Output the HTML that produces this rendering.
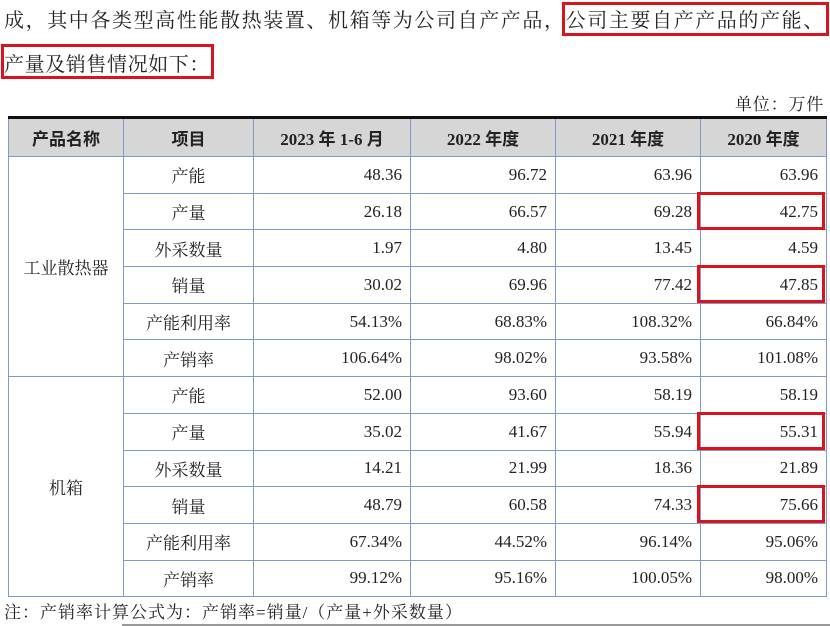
<!DOCTYPE html>
<html><head><meta charset="utf-8"><style>
body{margin:0;width:830px;height:626px;background:#fff;position:relative;overflow:hidden;font-family:"Liberation Serif","Noto Serif CJK SC",serif;color:#222}
.t{position:absolute;font-size:20px;white-space:nowrap}
.box{position:absolute;border:3px solid #d9141e;box-sizing:border-box}
table{position:absolute;left:8px;top:116px;border-collapse:collapse;table-layout:fixed;font-size:17px}
td,th{border:1.5px solid #7f9cc8;padding:0 8px;height:35.7px;text-align:right}
th{background:#d6d6d6;text-align:center;font-weight:bold;height:37px;border-top:3px solid #111;font-family:"Liberation Serif","Noto Sans CJK SC",serif}
td.c{text-align:center}
</style></head><body>
<div class="t" style="left:4px;top:4px;letter-spacing:1.6px">成，其中各类型高性能散热装置、机箱等为公司自产产品，公司主要自产产品的产能、</div>
<div class="t" style="left:4px;top:48px;letter-spacing:0.6px">产量及销售情况如下：</div>
<div class="box" style="left:562px;top:2px;width:267px;height:34px"></div>
<div class="box" style="left:1px;top:44px;width:213px;height:35px"></div>
<div class="t" style="right:6px;top:90px;font-size:17px;letter-spacing:0.8px">单位：万件</div>
<table>
<colgroup><col style="width:115px"><col style="width:130px"><col style="width:157px"><col style="width:145px"><col style="width:145px"><col style="width:126px"></colgroup>
<tr><th>产品名称</th><th>项目</th><th>2023 年 1-6 月</th><th>2022 年度</th><th>2021 年度</th><th>2020 年度</th></tr>
<tr><td class="c" rowspan="6">工业散热器</td><td class="c">产能</td><td>48.36</td><td>96.72</td><td>63.96</td><td>63.96</td></tr>
<tr><td class="c">产量</td><td>26.18</td><td>66.57</td><td>69.28</td><td>42.75</td></tr>
<tr><td class="c">外采数量</td><td>1.97</td><td>4.80</td><td>13.45</td><td>4.59</td></tr>
<tr><td class="c">销量</td><td>30.02</td><td>69.96</td><td>77.42</td><td>47.85</td></tr>
<tr><td class="c">产能利用率</td><td>54.13%</td><td>68.83%</td><td>108.32%</td><td>66.84%</td></tr>
<tr><td class="c">产销率</td><td>106.64%</td><td>98.02%</td><td>93.58%</td><td>101.08%</td></tr>
<tr><td class="c" rowspan="6">机箱</td><td class="c">产能</td><td>52.00</td><td>93.60</td><td>58.19</td><td>58.19</td></tr>
<tr><td class="c">产量</td><td>35.02</td><td>41.67</td><td>55.94</td><td>55.31</td></tr>
<tr><td class="c">外采数量</td><td>14.21</td><td>21.99</td><td>18.36</td><td>21.89</td></tr>
<tr><td class="c">销量</td><td>48.79</td><td>60.58</td><td>74.33</td><td>75.66</td></tr>
<tr><td class="c">产能利用率</td><td>67.34%</td><td>44.52%</td><td>96.14%</td><td>95.06%</td></tr>
<tr><td class="c">产销率</td><td>99.12%</td><td>95.16%</td><td>100.05%</td><td>98.00%</td></tr>
</table>
<div class="box" style="left:697px;top:192px;width:128px;height:38px"></div>
<div class="box" style="left:697px;top:265px;width:128px;height:38px"></div>
<div class="box" style="left:697px;top:412px;width:128px;height:38px"></div>
<div class="box" style="left:697px;top:485px;width:128px;height:38px"></div>
<div class="t" style="left:4px;top:598px;font-size:17px;letter-spacing:1px">注：产销率计算公式为：产销率=销量/（产量+外采数量）</div>
<div style="position:absolute;left:122px;top:624px;width:708px;height:2px;background:#999"></div>
</body></html>
